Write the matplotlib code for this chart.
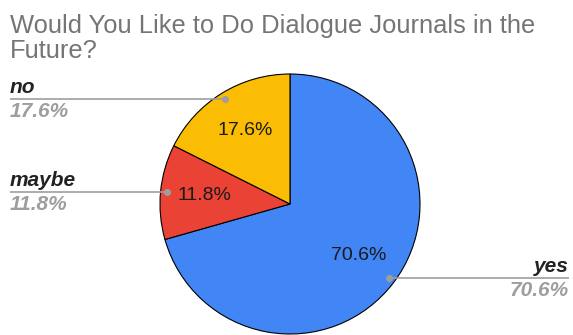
import numpy as np
import matplotlib.pyplot as plt

# survey answers
labels = ['yes', 'maybe', 'no']
shares = [70.6, 11.8, 17.6]
colors = ['#4285f4', '#ea4335', '#fbbc04']
title_lines = ['Would You Like to Do Dialogue Journals in the', 'Future?']

plt.rcParams['font.family'] = ['Liberation Sans', 'DejaVu Sans']

W, H = 573, 335
fig = plt.figure(figsize=(W / 100, H / 100), dpi=100)
ax = fig.add_axes([0, 0, 1, 1])

cx, cy, r = 290, H - 204, 130
wedges, texts, autotexts = ax.pie(
    shares, colors=colors, startangle=90, counterclock=False,
    center=(cx, cy), radius=r, autopct='%1.1f%%', pctdistance=0.66,
    wedgeprops=dict(edgecolor='black', linewidth=0.8),
    textprops=dict(fontsize=14, color='#1a1a1a'))

ax.set_xlim(0, W)
ax.set_ylim(0, H)
ax.set_aspect('equal')
ax.axis('off')

# leader lines with label + percentage
for w, lab, val in zip(wedges, labels, shares):
    th = np.deg2rad((w.theta1 + w.theta2) / 2)
    px, py = cx + 0.95 * r * np.cos(th), cy + 0.95 * r * np.sin(th)
    if np.cos(th) < 0:
        xe, ha = 10, 'left'
    else:
        xe, ha = 569, 'right'
    ax.plot([px, xe], [py, py], color='#9e9e9e', lw=1.2, solid_capstyle='butt')
    ax.plot(px, py, 'o', color='#9e9e9e', ms=4)
    ax.text(xe, py + 6, lab, ha=ha, va='baseline', fontsize=15,
            fontweight='bold', fontstyle='italic', color='#222222')
    ax.text(xe, py - 3, f'{val:.1f}%', ha=ha, va='top', fontsize=15,
            fontweight='bold', fontstyle='italic', color='#9e9e9e')

for i, line in enumerate(title_lines):
    fig.text(10 / W, 1 - (33 + 25 * i) / H, line, ha='left', va='baseline',
             fontsize=18.35, color='#757575')

fig.savefig('out.png', dpi=100)
